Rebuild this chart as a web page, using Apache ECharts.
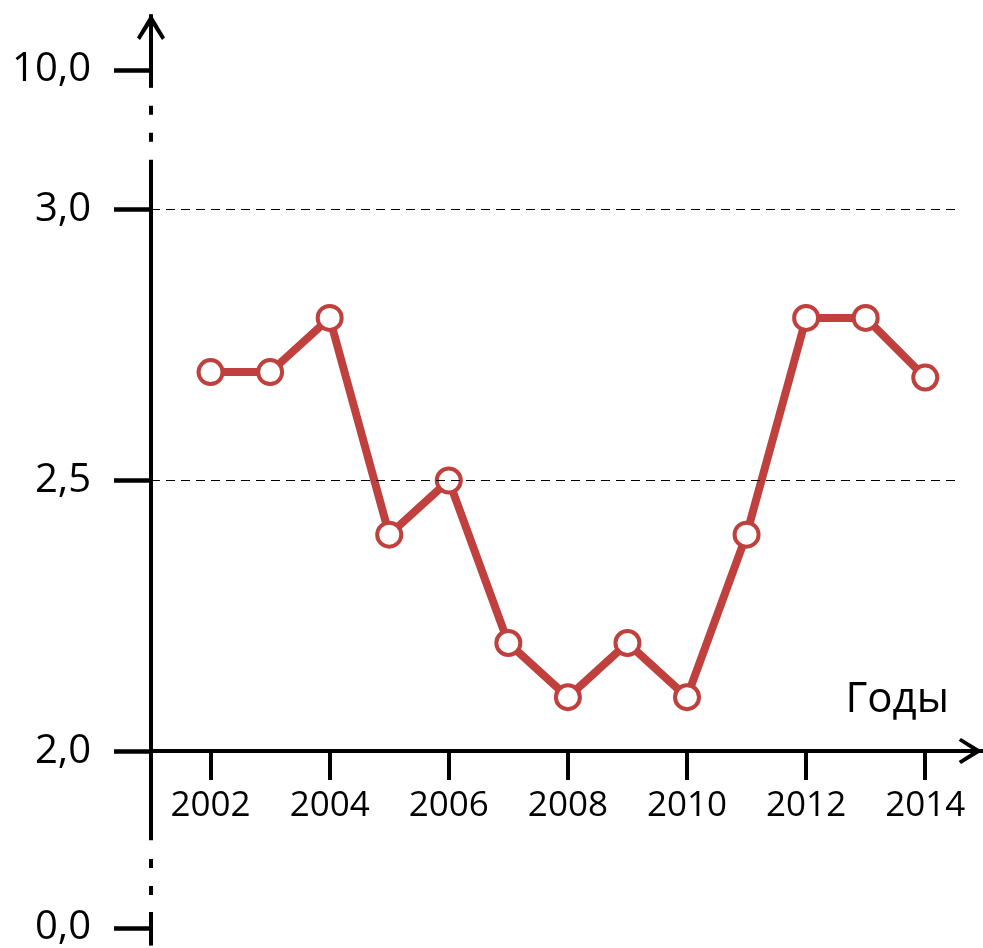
<!DOCTYPE html>
<html>
<head>
<meta charset="utf-8">
<script src="https://cdn.jsdelivr.net/npm/echarts@6/dist/echarts.min.js"></script>
<style>
html,body{margin:0;padding:0;background:#fff;}
#chart{width:983px;height:948px;}
</style>
</head>
<body>
<div id="chart"></div>
<script>
// ---- data ----
const years = [2002, 2003, 2004, 2005, 2006, 2007, 2008, 2009, 2010, 2011, 2012, 2013, 2014];
const values = [2.7, 2.7, 2.8, 2.4, 2.5, 2.2, 2.1, 2.2, 2.1, 2.4, 2.8, 2.8, 2.69];
const xTickYears = [2002, 2004, 2006, 2008, 2010, 2012, 2014];
const yTickValues = [0, 2, 2.5, 3, 10];
const yTickLabels = ['0,0', '2,0', '2,5', '3,0', '10,0'];
const gridLineValues = [2.5, 3];
const xAxisTitle = 'Годы';

// ---- broken scale: 2..3 linear, 0..2 and 3..10 compressed ----
function toAxis(v) {
  if (v < 2) return 2 - (2 - v) / 2 * 0.326;
  if (v > 3) return 3 + (v - 3) / 7 * 0.258;
  return v;
}
const yTickAxisVals = yTickValues.map(toAxis);

const FONT = '"Open Sans", sans-serif';
const RED = '#C0403E';
const X0 = 2001;        // year at the vertical axis
const XMAX = 2014.97;
const YMIN = 1.641, YMAX = 3.361;
const chevron = 'path://M14,0 L28,23 L25,25.5 L14,8.5 L3,25.5 L0,23 Z';

function seg(y1, y2, dash, endSymbol) {
  const ls = {color: '#000', width: 4, type: dash || 'solid', cap: 'butt'};
  return [
    {coord: [X0, y1], symbol: 'none', lineStyle: ls},
    {coord: [X0, y2], symbol: endSymbol || 'none', symbolSize: [28, 26], lineStyle: ls, itemStyle: {color: '#000'}}
  ];
}

const axisDecor = [
  seg(YMIN + 0.0005, 1.7035),
  seg(1.7348, 1.8029, [9, 18]),
  seg(1.8361, 3.0921),
  seg(3.1252, 3.1915, [9, 18]),
  seg(3.2247, 3.337, null, chevron),
  seg(3.337, YMAX - 0.0005)
];
const gridLines = gridLineValues.map(v => {
  const ls = {color: '#000', width: 1.2, type: [9, 6]};
  return [{coord: [X0, toAxis(v)], symbol: 'none', lineStyle: ls}, {coord: [2014.53, toAxis(v)], symbol: 'none', lineStyle: ls}];
});

const chart = echarts.init(document.getElementById('chart'), null, {renderer: 'canvas'});
chart.setOption({
  animation: false,
  backgroundColor: '#fff',
  title: {
    text: xAxisTitle, right: 29, top: 674,
    textStyle: {fontFamily: FONT, fontSize: 42, fontWeight: 'normal', color: '#000'}
  },
  grid: {left: 151, right: 0, top: 14, bottom: 0, containLabel: false},
  xAxis: {
    type: 'value', min: X0, max: XMAX,
    position: 'bottom', offset: -195,
    axisLine: {show: true, onZero: false, lineStyle: {color: '#000', width: 4},
      symbol: ['none', chevron], symbolSize: [26, 25], symbolOffset: [0, -12.5]},
    axisTick: {show: true, customValues: xTickYears, length: 29, lineStyle: {color: '#000', width: 4}},
    axisLabel: {show: true, customValues: xTickYears, margin: 38, formatter: v => String(v),
      fontFamily: FONT, fontSize: 35, color: '#000'},
    splitLine: {show: false}
  },
  yAxis: {
    type: 'value', min: YMIN, max: YMAX,
    axisLine: {show: false},
    axisTick: {show: true, customValues: yTickAxisVals, length: 37, lineStyle: {color: '#000', width: 4.5}},
    axisLabel: {show: true, customValues: yTickAxisVals, margin: 60, padding: [4, 0, 0, 0],
      formatter: v => {
        const i = yTickAxisVals.findIndex(a => Math.abs(a - v) < 1e-6);
        return i >= 0 ? yTickLabels[i] : '';
      },
      fontFamily: FONT, fontSize: 40, color: '#000'},
    splitLine: {show: false}
  },
  series: [
    {
      type: 'line', data: [], z: 1, silent: true,
      markLine: {silent: true, symbol: ['none', 'none'], label: {show: false},
        emphasis: {disabled: true}, animation: false,
        data: gridLines.concat(axisDecor)}
    },
    {
      type: 'line', z: 3, silent: true,
      data: years.map((y, i) => [y, toAxis(values[i])]),
      symbol: 'circle', symbolSize: 24, showAllSymbol: true,
      lineStyle: {color: RED, width: 8},
      itemStyle: {color: '#fff', borderColor: RED, borderWidth: 4},
      emphasis: {disabled: true}
    }
  ]
});
</script>
</body>
</html>
